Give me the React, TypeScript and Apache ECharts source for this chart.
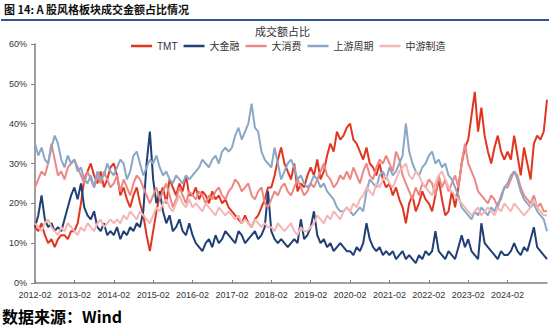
import React, { useEffect, useRef } from "react";
import * as echarts from "echarts";

// Monthly values (%), 2012-02 … 2025-02
const tmt = [
  14, 13, 15, 12, 10, 11, 9, 11, 12, 12, 11, 13,
  13, 15, 20, 26, 28, 30, 27, 25, 28, 24, 26, 29,
  30, 27, 22, 24, 21, 19, 22, 24, 20, 17, 12, 8,
  13, 18, 22, 24, 20, 26, 24, 22, 25, 23, 27, 22,
  22, 24, 21, 23, 22, 20, 23, 21, 22, 20, 21, 19,
  18, 17, 16, 15, 17, 15, 14, 16, 17, 19, 21, 24,
  24, 27, 31, 34, 30, 28, 26, 30, 23, 25, 24, 27,
  29, 27, 31, 26, 28, 32, 35, 33, 38, 36, 37, 39,
  40, 36, 35, 33, 31, 34, 30, 29, 27, 30, 26, 24,
  25, 22, 24, 21, 19, 15, 20, 22, 18, 20, 23, 21,
  20, 18, 22, 26, 21, 17, 18, 23, 19, 24, 30, 34,
  36, 42, 48, 38, 44, 37, 33, 30, 34, 37, 33, 31,
  33, 31, 37, 32, 27, 34, 30, 26, 35, 37, 36, 38,
  46,
];
const finance = [
  14, 17, 22, 16, 14, 15, 13, 14, 13, 16, 19, 22,
  24, 21, 25, 19, 17, 16, 18, 14, 13, 15, 12, 13,
  12, 14, 11, 13, 12, 14, 13, 15, 14, 18, 30, 38,
  26, 20, 23, 18, 15, 17, 13, 14, 16, 13, 12, 15,
  12, 10, 9, 8, 10, 11, 9, 12, 10, 11, 13, 12,
  11, 10, 13, 12, 10, 11, 12, 13, 11, 12, 14, 23,
  13, 11, 10, 11, 10, 9, 10, 11, 10, 16, 11, 12,
  14, 18, 12, 10, 11, 9, 10, 8, 9, 10, 9, 8,
  8, 7, 9, 8, 10, 15, 11, 9, 8, 9, 7, 8,
  7, 8, 6, 7, 8, 6, 7, 6, 5, 7, 6, 8,
  7, 8, 13, 8, 7, 6, 8, 7, 6, 9, 12, 9,
  11, 8, 7, 6, 15, 10, 9, 8, 7, 6, 8, 7,
  7, 8, 10, 8, 7, 9, 8, 11, 14, 9, 8, 7,
  6,
];
const consumer = [
  24, 26, 28, 27, 30, 35, 31, 27, 28, 26, 29, 30,
  31, 29, 27, 25, 28, 26, 24, 27, 25, 28, 26, 24,
  25, 27, 23, 26, 24, 22, 25, 27, 26, 24, 22, 20,
  22, 24, 21, 23, 25, 22, 19, 21, 24, 22, 20, 23,
  22, 21, 23, 22, 20, 22, 21, 23, 24, 22, 21, 23,
  24, 26, 25, 23, 24, 25, 22, 21, 23, 24, 20, 19,
  21, 23, 22, 24, 25, 23, 22, 24, 26, 24, 22, 23,
  25, 24, 26, 28, 30, 27, 26, 24, 25, 27, 26, 28,
  26, 29, 27, 25, 28, 30, 27, 26, 29, 31, 30, 32,
  30, 28, 33, 31, 27, 25, 23, 21, 24, 22, 25, 24,
  26, 25, 22, 27, 24, 26, 23, 25, 27, 24, 30, 35,
  30, 28, 26, 23, 22, 21, 20, 22, 21, 19, 22, 24,
  24, 26, 28, 27, 24, 22, 21, 20, 22, 19, 20, 18,
  18,
];
const upstream = [
  35, 32, 34, 31, 30, 34, 37, 35, 31, 29, 32, 30,
  31, 28, 29, 26, 25, 27, 24, 28, 26, 27, 30, 28,
  27, 29, 31, 30, 26, 28, 32, 33, 30, 27, 29, 31,
  30, 32, 29, 27, 28, 26, 25, 27, 26, 25, 27, 26,
  27, 28, 29, 31, 30, 29, 31, 32, 30, 33, 34, 33,
  34, 37, 39, 36, 38, 40, 45, 39, 38, 33, 31, 30,
  29, 34, 30, 26, 28, 30, 31, 29, 26, 27, 25, 24,
  25, 27, 26, 24, 25, 23, 22, 21, 19, 18, 18, 19,
  18, 17, 18, 19, 18, 23, 26, 25, 24, 27, 28, 26,
  29, 27, 28, 30, 32, 40, 33, 30, 28, 27, 29, 30,
  32, 33, 30, 31, 29, 30, 27, 26, 24, 22, 19, 18,
  17, 16, 18, 17, 19, 18, 17, 19, 18, 20, 21, 24,
  25, 27, 28, 26, 23, 21, 20, 19, 20, 18, 17, 16,
  13,
];
const midstream = [
  15, 14, 13, 15, 16, 14, 13, 12, 14, 13, 15, 14,
  13, 12, 14, 13, 15, 14, 13, 15, 16, 14, 15, 16,
  15, 16, 15, 17, 16, 18, 17, 16, 18, 17, 16, 15,
  17, 19, 18, 20, 21, 19, 18, 20, 22, 20, 19, 21,
  19, 20, 19, 18, 20, 19, 18, 17, 19, 18, 17, 18,
  17, 16, 17, 15, 16, 15, 14, 16, 15, 14, 15, 14,
  14, 13, 15, 14, 13, 14, 15, 13, 12, 14, 13, 13,
  14, 15, 17, 16, 15, 17, 16, 18, 17, 16, 18, 19,
  18, 20, 19, 21, 22, 24, 23, 22, 25, 24, 26, 27,
  25, 24, 26, 28, 29, 30, 27, 26, 28, 27, 25, 24,
  23, 22, 25, 27, 28, 26, 24, 23, 22, 21, 20, 19,
  18, 17, 18, 19, 17, 18, 19, 18, 17, 19, 18, 20,
  19, 18, 20, 19, 18, 17, 18, 19, 21, 19, 18, 17,
  17,
];

const seriesNames = ["TMT", "大金融", "大消费", "上游周期", "中游制造"];
const seriesColors = ["#E0361F", "#1F3F75", "#EC8883", "#8AA7C7", "#F3B7B6"];

const months: string[] = [];
for (let i = 0; i < tmt.length; i++) {
  const y = 2012 + Math.floor((i + 1) / 12);
  const m = ((i + 1) % 12) + 1;
  months.push(`${y}-${m < 10 ? "0" + m : m}`);
}

const showIdx = (i: number) => i % 12 === 0 && i <= 144;

export default function App() {
  const ref = useRef<HTMLDivElement>(null);
  useEffect(() => {
    const chart = echarts.init(ref.current!, null, { renderer: "svg" });
    const datas = [tmt, finance, consumer, upstream, midstream];
    chart.setOption({
      animation: false,
      backgroundColor: "#ffffff",
      textStyle: { fontFamily: "Liberation Sans, Noto Sans CJK SC, sans-serif" },
      graphic: [
        {
          type: "text",
          left: 4,
          top: 3,
          style: {
            text: "图 14: A 股风格板块成交金额占比情况",
            font: "bold 11px 'Noto Sans CJK SC', sans-serif",
            fill: "#111",
          },
        },
        {
          type: "rect",
          shape: { x: 1, y: 19, width: 548, height: 2 },
          style: { fill: "#2F5597" },
        },
        {
          type: "text",
          left: 2,
          top: 308,
          style: {
            text: "数据来源：Wind",
            font: "bold 16px 'Noto Sans CJK SC', sans-serif",
            fill: "#000",
          },
        },
      ],
      title: {
        text: "成交额占比",
        left: 255,
        top: 25,
        textStyle: {
          fontSize: 11,
          fontWeight: "normal",
          color: "#333",
          fontFamily: "Noto Sans CJK SC",
        },
        padding: 0,
      },
      legend: {
        top: 41,
        left: 131,
        icon: "rect",
        itemWidth: 21,
        itemHeight: 2.5,
        itemGap: 6,
        padding: 0,
        textStyle: { fontSize: 10, color: "#333", fontFamily: "Liberation Sans, Noto Sans CJK SC" },
        data: seriesNames,
      },
      grid: { left: 35, right: 7, top: 44, bottom: 48, containLabel: false },
      xAxis: {
        type: "category",
        data: months,
        boundaryGap: false,
        axisLine: { lineStyle: { color: "#808080", width: 1.5 } },
        axisTick: { show: true, inside: true, length: 3, interval: (i: number) => showIdx(i), lineStyle: { color: "#808080" } },
        axisLabel: {
          interval: (i: number) => showIdx(i),
          fontSize: 9,
          color: "#333",
          margin: 7,
        },
        splitLine: { show: false },
      },
      yAxis: {
        type: "value",
        min: 0,
        max: 60,
        interval: 10,
        axisLine: { show: true, lineStyle: { color: "#808080", width: 1.5 } },
        axisTick: { show: true, length: 4, lineStyle: { color: "#808080" } },
        axisLabel: { formatter: "{value}%", fontSize: 9, color: "#333", margin: 8 },
        splitLine: { show: false },
      },
      series: seriesNames.map((name, k) => ({
        name,
        type: "line",
        data: datas[k],
        symbol: "none",
        color: seriesColors[k],
        lineStyle: { width: 2, color: seriesColors[k] },
        z: 2 + k,
      })),
    });
    return () => chart.dispose();
  }, []);
  return (
    <div
      ref={ref}
      style={{ position: "fixed", left: 0, top: 0, width: 554, height: 331 }}
    />
  );
}
